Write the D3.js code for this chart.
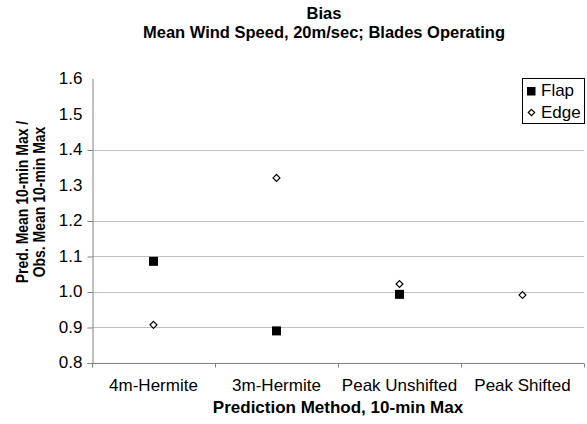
<!DOCTYPE html>
<html>
<head>
<meta charset="utf-8">
<script src="https://cdn.jsdelivr.net/npm/d3@7"></script>
<style>
  body { margin: 0; background: #fff; }
  text { font-family: "Liberation Sans", Arial, sans-serif; fill: #000; }
</style>
</head>
<body>
<svg id="chart"></svg>
<script>
const categories = ['4m-Hermite', '3m-Hermite', 'Peak Unshifted', 'Peak Shifted'];
const flap = [1.085, 0.889, 0.992, null];
const edge = [0.906, 1.320, 1.021, 0.990];
const yTicks = [0.8, 0.9, 1.0, 1.1, 1.2, 1.3, 1.4, 1.5, 1.6];
const gridValues = [0.9, 1.0, 1.1, 1.2, 1.4];

const width = 587, height = 424;
const plot = { left: 92, right: 584, top: 78.5, bottom: 362.5 };
const fontSize = '17px';

const svg = d3.select('#chart')
  .attr('width', width)
  .attr('height', height);

const x = d3.scaleBand()
  .domain(categories)
  .range([plot.left, plot.right]);

const y = d3.scaleLinear()
  .domain([0.8, 1.6])
  .range([plot.bottom, plot.top]);

// gridlines
svg.append('g')
  .selectAll('line')
  .data(gridValues)
  .enter()
  .append('line')
  .attr('x1', plot.left)
  .attr('x2', plot.right)
  .attr('y1', d => Math.round(y(d)) + 0.5)
  .attr('y2', d => Math.round(y(d)) + 0.5)
  .attr('stroke', '#c0c0c0');

// y axis: tick marks only where gridlines show, labels on all
let yAxis = svg.append('g')
  .attr('transform', `translate(${plot.left + 0.5},0)`)
  .call(d3.axisLeft(y).tickValues(yTicks).tickFormat(d3.format('.1f')).tickSize(5).tickSizeOuter(0));
yAxis.select('.domain').attr('stroke', '#808080');
yAxis.selectAll('.tick line')
  .attr('stroke', '#808080')
  .attr('transform', 'translate(0,0.5)')
  .attr('display', d => (gridValues.includes(d) || d === 0.8) ? null : 'none');
yAxis.selectAll('.tick text')
  .attr('x', -10)
  .style('font-size', fontSize)
  .style('font-family', '"Liberation Sans", Arial, sans-serif');

// x axis, ticks between categories
let xAxis = svg.append('g')
  .attr('transform', `translate(0,${Math.round(y(0.8)) + 0.5})`);
xAxis.append('line')
  .attr('x1', plot.left)
  .attr('x2', plot.right)
  .attr('stroke', '#808080');
xAxis.selectAll('.sep')
  .data(d3.range(categories.length + 1))
  .enter()
  .append('line')
  .attr('class', 'sep')
  .attr('x1', i => Math.round(plot.left + i * x.bandwidth()) + 0.5)
  .attr('x2', i => Math.round(plot.left + i * x.bandwidth()) + 0.5)
  .attr('y1', 0)
  .attr('y2', 4)
  .attr('stroke', '#808080');
xAxis.selectAll('.lbl')
  .data(categories)
  .enter()
  .append('text')
  .attr('class', 'lbl')
  .attr('x', d => x(d) + x.bandwidth() / 2)
  .attr('y', 27)
  .attr('text-anchor', 'middle')
  .style('font-size', fontSize)
  .text(d => d);

// Flap: filled squares
const sq = 9;
svg.append('g')
  .selectAll('rect')
  .data(flap.map((v, i) => ({ c: categories[i], v })).filter(d => d.v !== null))
  .enter()
  .append('rect')
  .attr('x', d => x(d.c) + x.bandwidth() / 2 - sq / 2)
  .attr('y', d => y(d.v) - sq / 2)
  .attr('width', sq)
  .attr('height', sq)
  .attr('fill', '#000');

// Edge: open diamonds
const diamond = d3.symbol().type(d3.symbolDiamond2).size(30);
svg.append('g')
  .selectAll('path')
  .data(edge.map((v, i) => ({ c: categories[i], v })))
  .enter()
  .append('path')
  .attr('d', diamond)
  .attr('transform', d => `translate(${x(d.c) + x.bandwidth() / 2},${y(d.v)})`)
  .attr('fill', '#fff')
  .attr('stroke', '#000')
  .attr('stroke-width', 1.2);

// legend
const legend = svg.append('g').attr('transform', 'translate(522,78)');
legend.append('rect')
  .attr('x', 0.5).attr('y', 0.5)
  .attr('width', 62).attr('height', 45)
  .attr('fill', '#fff')
  .attr('stroke', '#000');
legend.append('rect')
  .attr('x', 5).attr('y', 9)
  .attr('width', 8.5).attr('height', 8.5)
  .attr('fill', '#000');
legend.append('path')
  .attr('d', d3.symbol().type(d3.symbolDiamond2).size(26))
  .attr('transform', 'translate(9.5,34.5)')
  .attr('fill', '#fff')
  .attr('stroke', '#000')
  .attr('stroke-width', 1.2);
legend.append('text').attr('x', 19).attr('y', 18).style('font-size', fontSize).text('Flap');
legend.append('text').attr('x', 19).attr('y', 40).style('font-size', fontSize).text('Edge');

// titles
const title = svg.append('text')
  .attr('text-anchor', 'middle')
  .style('font-size', '16.5px')
  .style('font-weight', 'bold');
title.append('tspan').attr('x', 324).attr('y', 19).text('Bias');
title.append('tspan').attr('x', 324).attr('y', 37.5).text('Mean Wind Speed, 20m/sec; Blades Operating');

svg.append('text')
  .attr('x', 338)
  .attr('y', 413)
  .attr('text-anchor', 'middle')
  .style('font-size', fontSize)
  .style('font-weight', 'bold')
  .text('Prediction Method, 10-min Max');

// y title is narrower along its length in the reference
const yTitle = svg.append('text')
  .attr('transform', 'translate(0,202) rotate(-90) scale(0.875,1)')
  .attr('text-anchor', 'middle')
  .style('font-size', '16px')
  .style('font-weight', 'bold');
yTitle.append('tspan').attr('x', 0).attr('y', 28).text('Pred. Mean 10-min Max /');
yTitle.append('tspan').attr('x', 0).attr('y', 45).text('Obs. Mean 10-min Max');
</script>
</body>
</html>
